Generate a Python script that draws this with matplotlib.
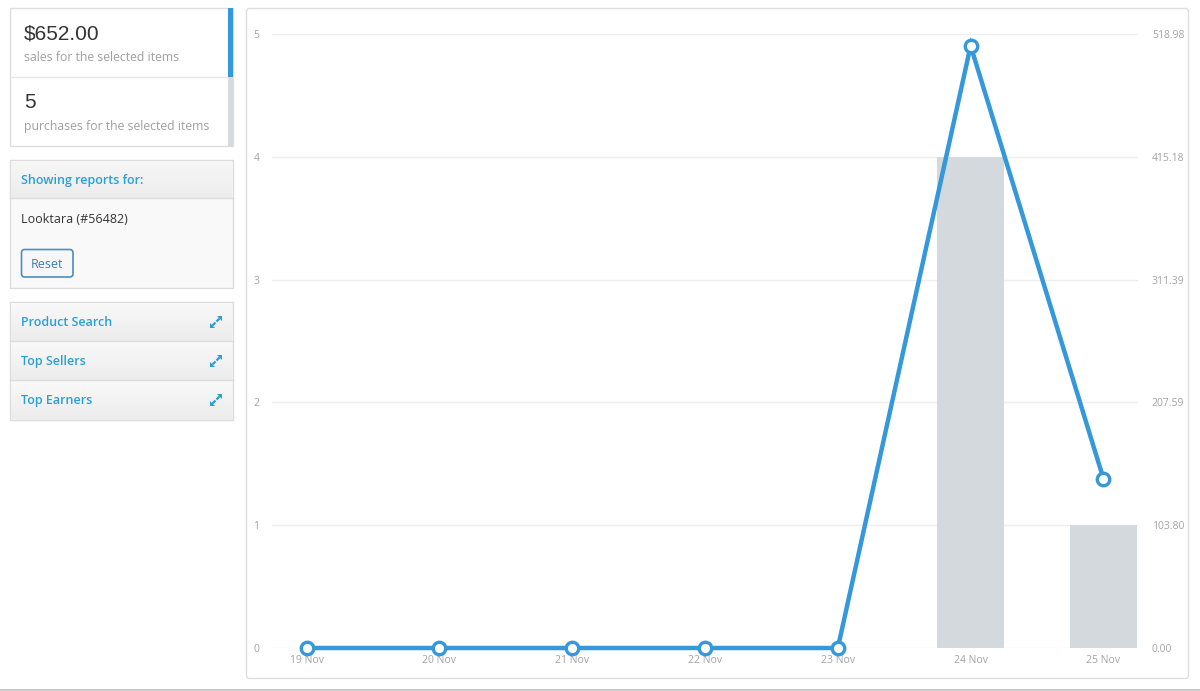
import matplotlib
matplotlib.use("Agg")
import matplotlib.pyplot as plt
from matplotlib.patches import Rectangle, FancyBboxPatch, Polygon
import numpy as np

# ---- data ----
dates = ["19 Nov", "20 Nov", "21 Nov", "22 Nov", "23 Nov", "24 Nov", "25 Nov"]
purchases = [0, 0, 0, 0, 0, 4, 1]            # bars, left axis
sales = [0, 0, 0, 0, 0, 509.0, 143.0]        # line, right axis
left_ticks = [0, 1, 2, 3, 4, 5]
right_ticks = [0.00, 103.80, 207.59, 311.39, 415.18, 518.98]
total_sales = "$652.00"
total_purchases = "5"
product_name = "Looktara (#56482)"
widget_items = ["Product Search", "Top Sellers", "Top Earners"]

BLUE = "#3498db"
LINKBLUE = "#2a9fd6"
BAR = "#d3d9dc"
GRID = "#eeeeee"
TICK = "#a3a3a3"

W, H = 1200, 691
fig = plt.figure(figsize=(W / 100, H / 100), dpi=100)
fig.patch.set_facecolor("white")

# overlay axes in pixel coordinates for UI elements
ui = fig.add_axes([0, 0, 1, 1])
ui.set_xlim(0, W)
ui.set_ylim(H, 0)
ui.axis("off")

def rect(x0, y0, x1, y1, fc="white", ec="none", lw=1, z=1):
    ui.add_patch(Rectangle((x0, y0), x1 - x0, y1 - y0, facecolor=fc, edgecolor=ec, linewidth=lw, zorder=z))

def gradient(x0, y0, x1, y1, c_top, c_bot, z=1):
    g = np.linspace(0, 1, 64).reshape(-1, 1)
    ct = np.array(matplotlib.colors.to_rgb(c_top))
    cb = np.array(matplotlib.colors.to_rgb(c_bot))
    img = ct[None, None, :] * (1 - g[:, :, None]) + cb[None, None, :] * g[:, :, None]
    ui.imshow(img, extent=(x0, x1, y1, y0), aspect="auto", zorder=z, interpolation="bilinear")

def expand_icon(cx, cy, color, z=4):
    # north-east arrow
    ui.plot([cx + 0.5, cx + 3.5], [cy - 0.5, cy - 3.5], color=color, lw=1.6, zorder=z, solid_capstyle="butt")
    ui.add_patch(Polygon([(cx + 6, cy - 6), (cx + 6, cy - 1), (cx + 1, cy - 6)], closed=True,
                         facecolor=color, edgecolor="none", zorder=z))
    # south-west arrow
    ui.plot([cx - 0.5, cx - 3.5], [cy + 0.5, cy + 3.5], color=color, lw=1.6, zorder=z, solid_capstyle="butt")
    ui.add_patch(Polygon([(cx - 6, cy + 6), (cx - 6, cy + 1), (cx - 1, cy + 6)], closed=True,
                         facecolor=color, edgecolor="none", zorder=z))

# bottom separator
ui.plot([0, W], [690, 690], color="#c8c8c8", lw=1.5, zorder=2)

# ---- summary box ----
rect(10, 8, 233, 146, fc="white", ec="#dedede", z=1)
ui.plot([10, 229], [77, 77], color="#e6e6e6", lw=1, zorder=2)
rect(228, 8, 233, 77, fc=BLUE, z=3)
rect(228, 77, 233, 146, fc="#d6dadc", z=3)
ui.text(24, 34, total_sales, fontsize=15, family="Liberation Sans", color="#333333", va="center", ha="left", zorder=4)
ui.text(24, 57, "sales for the selected items", fontsize=8.8, family="Open Sans", color="#a0a0a0", va="center", zorder=4)
ui.text(24, 102, total_purchases, fontsize=15, family="Liberation Sans", color="#333333", va="center", zorder=4)
ui.text(24, 126, "purchases for the selected items", fontsize=8.8, family="Open Sans", color="#a0a0a0", va="center", zorder=4)

# ---- showing reports box ----
rect(10, 160, 233, 288, fc="#f9f9f9", ec="#dcdcdc", z=1)
gradient(11, 161, 232, 198, "#f7f7f7", "#ececec", z=2)
ui.plot([10, 233], [198, 198], color="#dcdcdc", lw=1, zorder=3)
ui.text(21, 180, "Showing reports for:", fontsize=9.0, family="Open Sans", weight="semibold", color=LINKBLUE, va="center", zorder=4)
ui.text(21, 219, product_name, fontsize=9.0, family="Open Sans", weight="medium", color="#333333", va="center", zorder=4)
btn = FancyBboxPatch((21.5, 249.5), 51.5, 27.5, boxstyle="round,pad=0,rounding_size=3",
                     facecolor="#f7f7f7", edgecolor="#4b8fbe", linewidth=1.2, zorder=4)
ui.add_patch(btn)
ui.text(47.5, 264, "Reset", fontsize=9.0, family="Open Sans", color="#3a7fae", va="center", ha="center", zorder=5)

# ---- widgets box ----
rect(10, 302, 233, 420, fc="#f5f5f5", ec="#dcdcdc", z=1)
for i, label in enumerate(widget_items):
    y0 = 302 + i * 39
    gradient(11, y0 + 1, 232, y0 + 39, "#f9f9f9", "#ececec", z=2)
    if i > 0:
        ui.plot([10, 233], [y0, y0], color="#dcdcdc", lw=1, zorder=3)
    yc = y0 + 20
    ui.text(21, yc, label, fontsize=9.0, family="Open Sans", weight="semibold", color=LINKBLUE, va="center", zorder=4)
    expand_icon(216, yc, LINKBLUE)

# ---- chart panel ----
panel = FancyBboxPatch((246.5, 8.5), 942, 670, boxstyle="round,pad=0,rounding_size=3",
                       facecolor="white", edgecolor="#dedede", linewidth=1, zorder=1)
ui.add_patch(panel)

x = np.arange(len(dates))
ax = fig.add_axes([272 / W, (H - 648) / H, 866 / W, 614 / H])
ax.set_facecolor("none")
ax.set_zorder(5)
ax.set_xlim(-0.26, len(dates) - 1 + 0.26)
ax.set_ylim(0, 5)
for t in left_ticks:
    ax.axhline(t, color=GRID, lw=1, zorder=0)
ax.bar(x, purchases, width=0.5, color=BAR, zorder=1)
ax.set_yticks(left_ticks)
ax.set_yticklabels([str(t) for t in left_ticks])
ax.set_xticks(x)
ax.set_xticklabels(dates)
ax.tick_params(axis="both", length=0, colors=TICK, labelsize=7.5)
ax.tick_params(axis="x", pad=5)
ax.tick_params(axis="y", pad=9)
for lab in ax.get_xticklabels() + ax.get_yticklabels():
    lab.set_family("Open Sans")
for s in ax.spines.values():
    s.set_visible(False)

ax2 = ax.twinx()
ax2.set_ylim(0, right_ticks[-1])
ax2.plot(x, sales, color=BLUE, lw=3.2, marker="o", markersize=9, markerfacecolor="white",
         markeredgecolor=BLUE, markeredgewidth=2.4, zorder=3, clip_on=False, solid_joinstyle="miter")
ax2.set_yticks(right_ticks)
ax2.set_yticklabels([f"{t:.2f}" for t in right_ticks])
ax2.tick_params(axis="y", length=0, colors=TICK, labelsize=7.5, pad=10)
for lab in ax2.get_yticklabels():
    lab.set_family("Open Sans")
for s in ax2.spines.values():
    s.set_visible(False)

fig.savefig("out.png", dpi=100, facecolor="white")
